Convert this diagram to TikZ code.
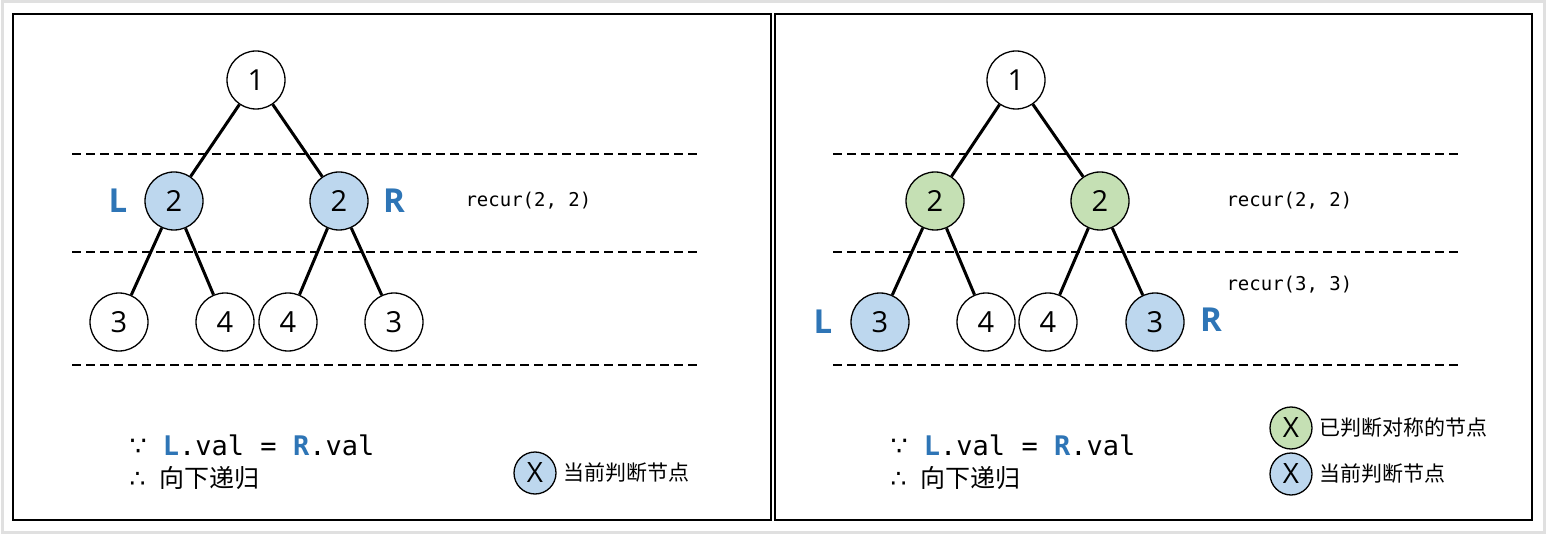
\documentclass[tikz,border=0pt]{standalone}
\usepackage{fontspec}
\setmainfont{Open Sans}
\setmonofont{DejaVu Sans Mono}
\newfontfamily\cjk{Noto Sans CJK SC}
\newfontfamily\symf{DejaVu Sans}
\definecolor{nblue}{HTML}{BDD7EE}
\definecolor{ngreen}{HTML}{C5E0B4}
\definecolor{tblue}{HTML}{2E75B6}
\begin{document}
\begin{tikzpicture}[x=1pt,y=-1pt,
  tn/.style={circle,draw=black,line width=1.3pt,minimum size=58pt,inner sep=0pt,fill=white,font=\fontsize{29}{30}\selectfont},
  bluen/.style={tn,fill=nblue},
  greenn/.style={tn,fill=ngreen},
  legn/.style={circle,draw=black,line width=1.3pt,minimum size=42pt,inner sep=0pt,font=\fontsize{28}{28}\selectfont},
  edge/.style={line width=3pt},
  sep/.style={dash pattern=on 9pt off 5pt,line width=1.2pt},
  lr/.style={text=tblue,font=\fontsize{33}{33}\selectfont\bfseries},
  rec/.style={font=\fontsize{19}{19}\selectfont\ttfamily,anchor=west},
  leg/.style={font=\fontsize{21}{21}\selectfont\cjk,anchor=west},
  frame/.style={line width=2.4pt}]
\useasboundingbox (0,0) rectangle (1546,534);
\fill[white] (0,0) rectangle (1546,534);
\draw[black!12,line width=3pt] (2,2) rectangle (1544,532);
\draw[frame] (13,14) rectangle (771,520);
\draw[frame] (775,14) rectangle (1532,520);
% ---------- left panel ----------
\foreach \y in {154,252,365} \draw[sep] (72,\y) -- (700,\y);
\node[tn] (a1) at (256,80) {1};
\node[bluen] (a2) at (174,201) {2};
\node[bluen] (a3) at (339,201) {2};
\node[tn] (a4) at (119,322) {3};
\node[tn] (a5) at (225,322) {4};
\node[tn] (a6) at (288,322) {4};
\node[tn] (a7) at (394,322) {3};
\draw[edge] (a1) -- (a2); \draw[edge] (a1) -- (a3);
\draw[edge] (a2) -- (a4); \draw[edge] (a2) -- (a5);
\draw[edge] (a3) -- (a6); \draw[edge] (a3) -- (a7);
\node[lr] (aL) at (118,201) {L};
\node[lr] (aR) at (394,201) {R};
\node[rec] (ar1) at (462,201) {recur(2, 2)};
\node[anchor=west,font=\fontsize{27}{27}\selectfont\ttfamily] (at1) at (126,445) {{\symf ∵} {\color{tblue}\bfseries L}.val = {\color{tblue}\bfseries R}.val};
\node[anchor=west,font=\fontsize{25}{25}\selectfont] (at2) at (126,478) {{\symf ∴}\hspace{14pt}\cjk 向下递归};
\node[legn,fill=nblue] (alg) at (535,473) {X};
\node[leg] (algt) at (560,473) {当前判断节点};
% ---------- right panel ----------
\foreach \y in {154,252,365} \draw[sep] (833,\y) -- (1461,\y);
\node[tn] (b1) at (1016,80) {1};
\node[greenn] (b2) at (935,201) {2};
\node[greenn] (b3) at (1100,201) {2};
\node[bluen] (b4) at (880,322) {3};
\node[tn] (b5) at (986,322) {4};
\node[tn] (b6) at (1048,322) {4};
\node[bluen] (b7) at (1155,322) {3};
\draw[edge] (b1) -- (b2); \draw[edge] (b1) -- (b3);
\draw[edge] (b2) -- (b4); \draw[edge] (b2) -- (b5);
\draw[edge] (b3) -- (b6); \draw[edge] (b3) -- (b7);
\node[lr] (bL) at (823,322) {L};
\node[lr] (bR) at (1211,320) {R};
\node[rec] (br1) at (1223,201) {recur(2, 2)};
\node[rec] (br2) at (1223,285) {recur(3, 3)};
\node[anchor=west,font=\fontsize{27}{27}\selectfont\ttfamily] (bt1) at (887,445) {{\symf ∵} {\color{tblue}\bfseries L}.val = {\color{tblue}\bfseries R}.val};
\node[anchor=west,font=\fontsize{25}{25}\selectfont] (bt2) at (887,478) {{\symf ∴}\hspace{14pt}\cjk 向下递归};
\node[legn,fill=ngreen] (blg1) at (1291,428) {X};
\node[leg] (blg1t) at (1316,428) {已判断对称的节点};
\node[legn,fill=nblue] (blg2) at (1291,474) {X};
\node[leg] (blg2t) at (1316,474) {当前判断节点};
\end{tikzpicture}
\end{document}
